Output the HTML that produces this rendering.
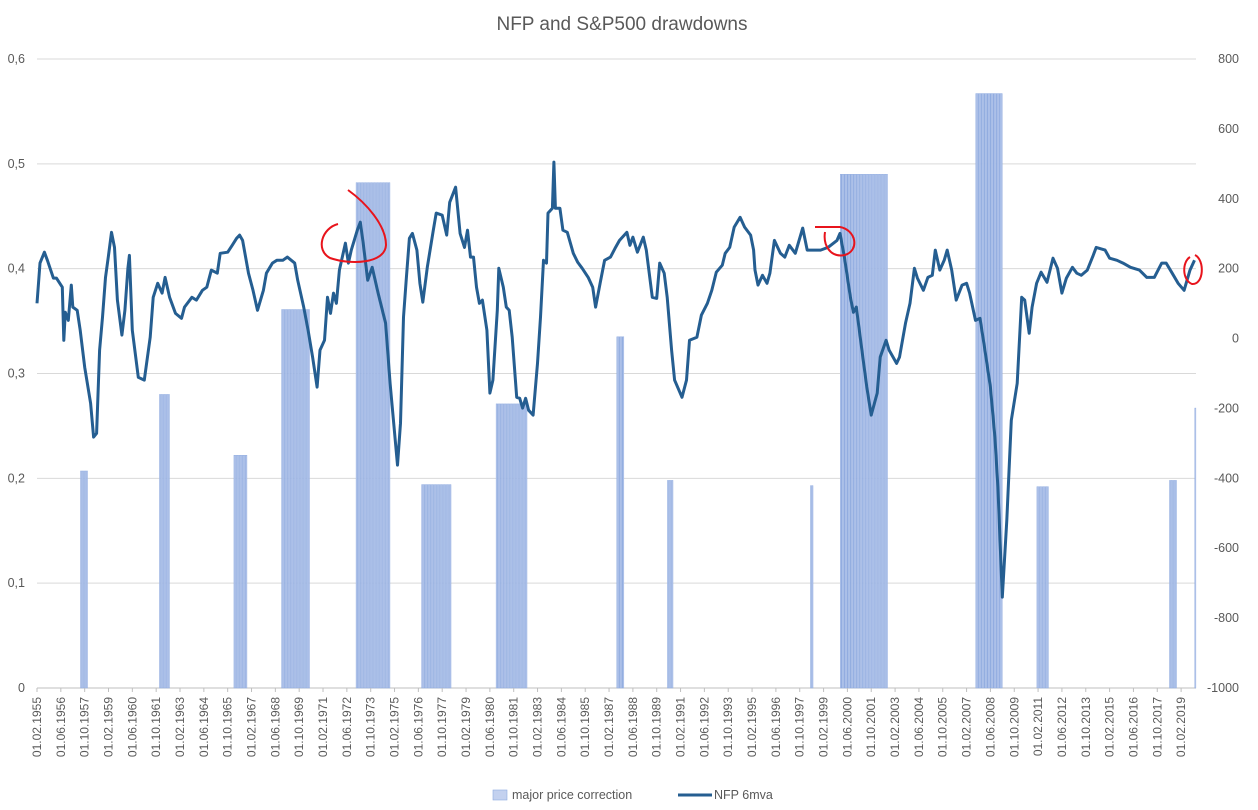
<!DOCTYPE html>
<html><head><meta charset="utf-8"><style>
body{margin:0;background:#fff;}
svg{display:block;font-family:"Liberation Sans",Arial,sans-serif;}
</style></head><body>
<svg id="chart" width="1258" height="810" viewBox="0 0 1258 810" xmlns="http://www.w3.org/2000/svg">
<text x="622" y="30" text-anchor="middle" font-size="19" fill="#595959">NFP and S&amp;P500 drawdowns</text>
<g id="grid"></g>
<g id="bars"></g>
<g id="line"></g>
<g id="axes"></g>
<g fill="none" stroke="#e8141c" stroke-width="2">
<path d="M338,224 C322,228 315,250 330,258 C350,265 385,264 386,245 C386,225 366,203 348,190"/>
<path d="M815,227 L840,227 C856,230 860,250 845,255 C830,258 823,245 825,232"/>
<path d="M1190,257 C1182,262 1182,280 1192,284 C1204,285 1205,260 1195,255"/>
</g>
<g>
<rect x="493" y="790" width="14" height="10" fill="#c3d1ef" stroke="#8eaadf" stroke-width="0.6"/>
<text x="512" y="799" font-size="12.5" fill="#595959">major price correction</text>
<line x1="678" y1="795" x2="712" y2="795" stroke="#255e91" stroke-width="3"/>
<text x="714" y="799" font-size="12.5" fill="#595959">NFP 6mva</text>
</g>
</svg>
<script>
// months since 1955-02
const barStart = [29, 82, 132, 164, 214, 258, 308, 389, 423, 519, 539, 630, 671, 760, 777];
const barEnd   = [33, 88, 140, 182, 236, 277, 328, 393, 426, 520, 570, 647, 678, 764, 777];
const barValue = [0.207, 0.28, 0.222, 0.361, 0.482, 0.194, 0.271, 0.335, 0.198, 0.193, 0.49, 0.567, 0.192, 0.198, 0.267];
const lineMonths = [0,2,5,7,11,13,17,18,19,21,23,24,27,29,32,36,38,40,42,44,46,48,50,52,54,57,59,61,62,64,68,72,76,78,81,84,86,89,93,97,99,104,107,111,114,117,121,123,128,131,134,136,138,142,145,148,152,154,158,161,165,168,173,175,179,182,185,188,190,193,195,197,199,201,203,207,209,211,215,217,219,222,225,229,234,237,242,244,246,248,250,252,255,257,259,262,266,268,272,275,277,281,284,287,289,291,293,295,297,299,302,304,306,309,310,313,315,317,319,322,324,326,328,330,333,336,338,340,342,343,346,347,348,351,353,356,360,363,366,370,373,375,378,381,385,388,391,396,398,400,403,407,409,413,416,418,421,423,426,428,433,436,438,443,446,450,453,456,460,462,465,468,472,475,479,481,482,484,487,490,492,495,499,502,505,509,514,517,521,526,531,537,539,542,546,548,550,554,557,560,564,566,570,572,577,579,583,586,589,591,595,598,601,603,606,609,611,614,617,621,624,626,630,633,636,640,643,645,648,651,654,658,661,663,666,668,671,674,678,682,685,688,691,695,698,701,705,709,711,717,720,725,729,734,740,745,750,755,758,762,766,770,774,777];
const lineValues = [101,216,247,224,173,173,147,-5,75,52,153,90,81,24,-82,-185,-282,-271,-33,61,175,238,304,261,110,10,81,201,238,24,-111,-119,4,118,158,130,175,118,72,58,90,118,110,138,147,196,187,244,247,267,287,296,281,187,138,81,138,187,216,224,224,233,216,167,90,24,-53,-139,-33,-5,118,72,130,101,196,273,216,253,310,333,273,167,204,130,44,-128,-362,-242,61,175,287,301,253,158,104,204,310,359,353,296,390,433,301,261,310,233,233,147,101,110,24,-156,-119,81,201,147,90,81,4,-168,-171,-199,-171,-205,-219,-71,61,224,216,359,373,505,373,373,310,304,244,218,201,175,147,90,158,224,233,258,281,304,267,290,247,290,253,118,115,216,187,118,-33,-119,-168,-119,-5,4,67,101,138,190,210,244,261,319,347,319,296,253,196,153,181,158,187,281,244,233,267,244,316,253,253,253,261,281,301,233,118,75,90,-42,-139,-219,-156,-53,-5,-33,-71,-53,44,101,201,173,138,175,181,253,196,224,253,196,110,153,158,130,52,58,-25,-139,-282,-425,-740,-520,-234,-128,118,110,15,90,158,190,161,230,201,130,173,204,187,181,196,238,261,253,230,224,216,204,196,175,175,216,216,187,158,138,196,224];
const leftTicks = [0, 0.1, 0.2, 0.3, 0.4, 0.5, 0.6];
const leftTickLabels = ["0","0,1","0,2","0,3","0,4","0,5","0,6"];
const rightTicks = [-1000,-800,-600,-400,-200,0,200,400,600,800];

const NS = "http://www.w3.org/2000/svg";
const X0 = 37, X1 = 1196, Y0 = 688, Y1 = 59, NM = 778;
const step = (X1 - X0) / NM;
const xAt = m => X0 + m * step;
const yL = v => Y0 - (v - 0) / 0.6 * (Y0 - Y1);
const yR = v => Y0 - (v + 1000) / 1800 * (Y0 - Y1);
function mk(tag, attrs, parent) {
  const e = document.createElementNS(NS, tag);
  for (const k in attrs) e.setAttribute(k, attrs[k]);
  parent.appendChild(e);
  return e;
}
const grid = document.getElementById('grid');
const axes = document.getElementById('axes');
leftTicks.forEach((t, i) => {
  const g = mk('line', {x1: X0, x2: X1, y1: yL(t), y2: yL(t), stroke: i === 0 ? '#bfbfbf' : '#d9d9d9', 'stroke-width': 1}, grid);
  
  
  const tx = mk('text', {x: 25, y: yL(t) + 4, 'text-anchor': 'end', 'font-size': 12.5, fill: '#595959'}, axes);
  tx.textContent = leftTickLabels[i];
  
  
});
rightTicks.forEach(t => {
  const tx = mk('text', {x: 1239, y: yR(t) + 4, 'text-anchor': 'end', 'font-size': 12.5, fill: '#595959'}, axes);
  tx.textContent = String(t);
  
  
});
const mon = ['01','02','03','04','05','06','07','08','09','10','11','12'];
for (let m = 0; m < NM; m += 16) {
  const tot = 1 + m;
  const yr = 1955 + Math.floor(tot / 12);
  const mo = mon[tot % 12];
  const x = xAt(m);
  const tx = mk('text', {x: 0, y: 0, 'text-anchor': 'end', 'font-size': 12, fill: '#595959', transform: `translate(${x + 4},${697}) rotate(-90)`}, axes);
  tx.textContent = `01.${mo}.${yr}`;
  
  
  const tk = mk('line', {x1: x, x2: x, y1: Y0, y2: Y0 + 4, stroke: '#bfbfbf'}, axes);
  
  
}
const bars = document.getElementById('bars');
barStart.forEach((s, i) => {
  for (let m = s; m <= barEnd[i]; m++) {
    const y = yL(barValue[i]);
    const r = mk('rect', {x: xAt(m) + 0.3, y: y, width: step * 0.7, height: Y0 - y, fill: '#c3d1ef', stroke: '#8eaadf', 'stroke-width': 0.5}, bars);
    
    
  }
});
const pts = lineMonths.map((m, i) => `${xAt(m).toFixed(1)},${yR(lineValues[i]).toFixed(1)}`).join(' ');
const pl = mk('polyline', {points: pts, fill: 'none', stroke: '#255e91', 'stroke-width': 3, 'stroke-linejoin': 'round'}, document.getElementById('line'));


</script>
</body></html>
